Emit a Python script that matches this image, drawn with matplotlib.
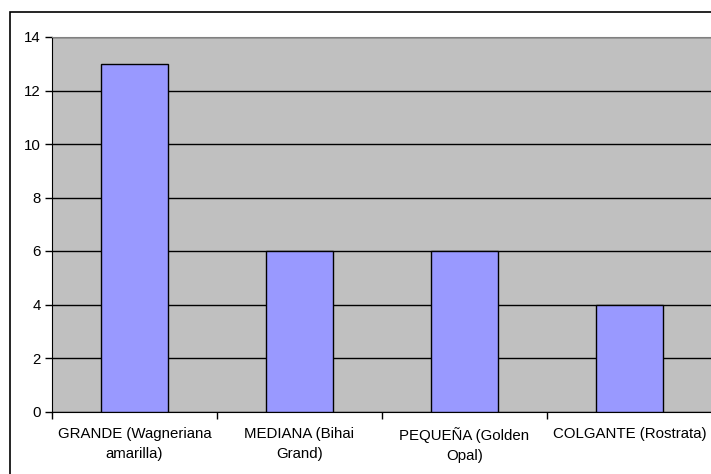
import numpy as np
import matplotlib.pyplot as plt
from matplotlib.patches import Rectangle

categorias = ['GRANDE (Wagneriana\namarilla)', 'MEDIANA (Bihai\nGrand)',
              'PEQUEÑA (Golden\nOpal)', 'COLGANTE (Rostrata)']
cantidades = [13, 6, 6, 4]

plt.rcParams['font.family'] = ['Liberation Sans', 'DejaVu Sans']

fig = plt.figure(figsize=(7.11, 4.74), dpi=100)
W, H = 711, 474
ax = fig.add_axes([52 / W, 1 - 411.5 / H, (712 - 52) / W, (411.5 - 37) / H])

x = np.arange(len(categorias))
ax.set_facecolor('#c0c0c0')
ax.bar(x, cantidades, width=0.41, color='#9999ff', edgecolor='black',
       linewidth=1, zorder=3)

ax.set_xlim(-0.5, len(categorias) - 0.5)
ax.set_ylim(0, 14)
ax.set_yticks(np.arange(0, 15, 2))
ax.yaxis.grid(True, color='black', linewidth=1, zorder=1)
ax.set_axisbelow(True)

# category separators as ticks, names centred under each bar
ax.set_xticks(np.arange(len(categorias) + 1) - 0.5)
ax.set_xticklabels([])
ax.set_xticks(x, minor=True)
ax.set_xticklabels(categorias, minor=True, fontsize=10.8, linespacing=1.6)
ax.tick_params(axis='x', which='minor', length=0, pad=11)
ax.tick_params(axis='x', which='major', length=5, width=1, color='black')
ax.tick_params(axis='y', length=5, width=1, labelsize=10.8, pad=3)

for s in ['top', 'right']:
    ax.spines[s].set_color('#808080')
for s in ['left', 'bottom']:
    ax.spines[s].set_color('black')

# outer chart border
fig.patches.append(Rectangle((10 / W, -0.05), 1.1, 1 - 12 / H + 0.05,
                             transform=fig.transFigure, fill=False,
                             edgecolor='black', linewidth=1.2))

fig.savefig('out.png', dpi=100)
